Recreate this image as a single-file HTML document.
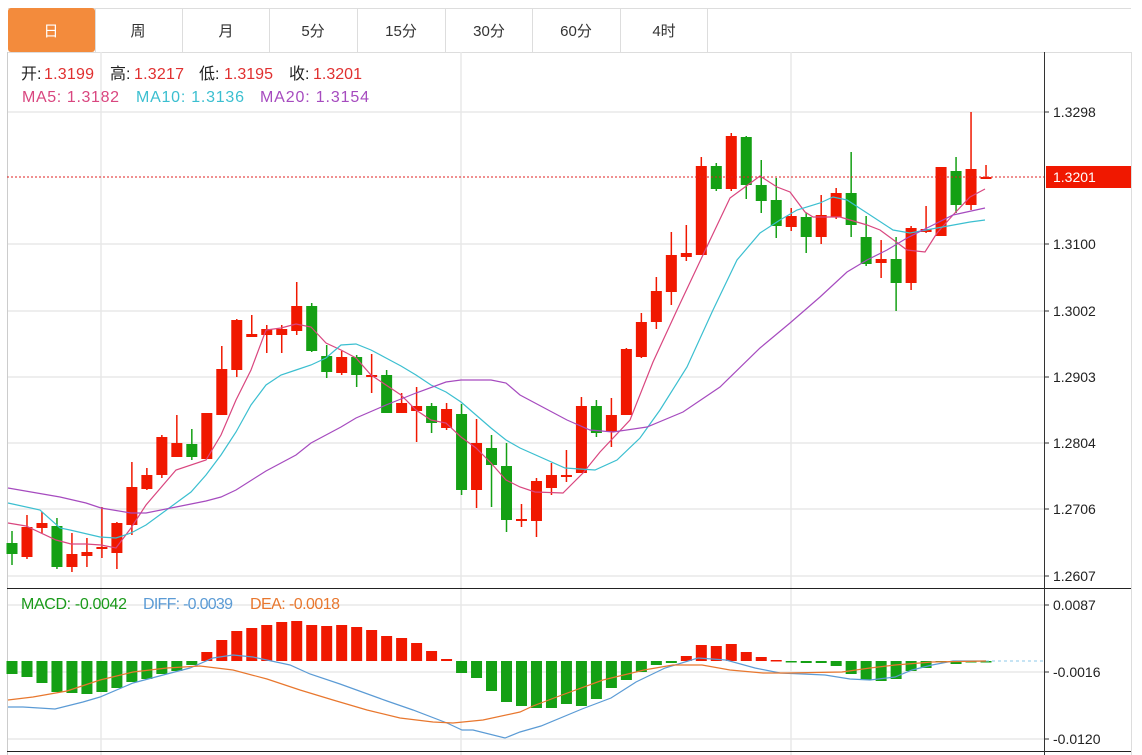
<!DOCTYPE html>
<html><head><meta charset="utf-8"><style>
body{margin:0;background:#fff;width:1142px;height:755px;overflow:hidden;font-family:"Liberation Sans","Noto Sans CJK SC",sans-serif}
svg{position:absolute;left:0;top:0}
text{font-family:"Liberation Sans","Noto Sans CJK SC",sans-serif}
</style></head><body>
<svg id="s" width="1142" height="755" xmlns="http://www.w3.org/2000/svg">
<rect x="0" y="0" width="1142" height="755" fill="#fff"/>
<line x1="8" y1="8.5" x2="1131" y2="8.5" stroke="#ddd"/>
<line x1="8" y1="52.5" x2="1131" y2="52.5" stroke="#ddd"/>
<rect x="8" y="8" width="87" height="44" rx="3" fill="#f38b3c"/>
<g stroke="#ddd"><line x1="182.5" y1="8" x2="182.5" y2="52"/><line x1="269.5" y1="8" x2="269.5" y2="52"/><line x1="357.5" y1="8" x2="357.5" y2="52"/><line x1="445.5" y1="8" x2="445.5" y2="52"/><line x1="532.5" y1="8" x2="532.5" y2="52"/><line x1="620.5" y1="8" x2="620.5" y2="52"/><line x1="707.5" y1="8" x2="707.5" y2="52"/><line x1="95.5" y1="8" x2="95.5" y2="52"/></g>
<g font-size="15" text-anchor="middle" fill="#333">
<text x="51" y="36" fill="#fff">日</text><text x="138" y="36">周</text><text x="226" y="36">月</text><text x="313" y="36">5分</text><text x="401" y="36">15分</text><text x="489" y="36">30分</text><text x="576" y="36">60分</text><text x="664" y="36">4时</text>
</g>
<line x1="7.5" y1="52" x2="7.5" y2="755" stroke="#ccc"/>
<line x1="1131.5" y1="52" x2="1131.5" y2="755" stroke="#ddd"/>
<g stroke="#e8e8e8" stroke-width="1.5">
<line x1="8" y1="112" x2="1044" y2="112"/><line x1="8" y1="244" x2="1044" y2="244"/><line x1="8" y1="311" x2="1044" y2="311"/><line x1="8" y1="377" x2="1044" y2="377"/><line x1="8" y1="443" x2="1044" y2="443"/><line x1="8" y1="509" x2="1044" y2="509"/><line x1="8" y1="576" x2="1044" y2="576"/>
<line x1="8" y1="605" x2="1044" y2="605"/><line x1="8" y1="672" x2="1044" y2="672"/><line x1="8" y1="739" x2="1044" y2="739"/>
<line x1="101" y1="52" x2="101" y2="755"/><line x1="461" y1="52" x2="461" y2="755"/><line x1="791" y1="52" x2="791" y2="755"/>
</g>
<line x1="7" y1="588.5" x2="1131" y2="588.5" stroke="#222"/>
<line x1="7" y1="751.5" x2="1131" y2="751.5" stroke="#222"/>
<line x1="1044.5" y1="52" x2="1044.5" y2="755" stroke="#333"/>
<g id="cand"></g>
<g id="macd"></g>
<line x1="7" y1="177" x2="1044" y2="177" stroke="#e02020" stroke-dasharray="2,2"/>
<line x1="986" y1="661" x2="1044" y2="661" stroke="#8cc8e8" stroke-dasharray="3,3"/>
<g font-size="14" fill="#222" stroke="none">
<text x="1053" y="117">1.3298</text><text x="1053" y="249">1.3100</text><text x="1053" y="316">1.3002</text><text x="1053" y="382">1.2903</text><text x="1053" y="448">1.2804</text><text x="1053" y="514">1.2706</text><text x="1053" y="581">1.2607</text>
<text x="1053" y="610">0.0087</text><text x="1053" y="677">-0.0016</text><text x="1053" y="744">-0.0120</text>
</g>
<g stroke="#333"><line x1="1044" y1="112" x2="1049" y2="112"/><line x1="1044" y1="244" x2="1049" y2="244"/><line x1="1044" y1="311" x2="1049" y2="311"/><line x1="1044" y1="377" x2="1049" y2="377"/><line x1="1044" y1="443" x2="1049" y2="443"/><line x1="1044" y1="509" x2="1049" y2="509"/><line x1="1044" y1="576" x2="1049" y2="576"/><line x1="1044" y1="605" x2="1049" y2="605"/><line x1="1044" y1="672" x2="1049" y2="672"/><line x1="1044" y1="739" x2="1049" y2="739"/></g>
<rect x="1046" y="166" width="85" height="22" fill="#f01800"/>
<text x="1053" y="182" font-size="14" fill="#fff">1.3201</text>
<g font-size="16">
<text x="21" y="79" fill="#222">开:</text><text x="44" y="79" fill="#e03030" textLength="50">1.3199</text>
<text x="110" y="79" fill="#222">高:</text><text x="134" y="79" fill="#e03030" textLength="50">1.3217</text>
<text x="199" y="79" fill="#222">低:</text><text x="224" y="79" fill="#e03030" textLength="49">1.3195</text>
<text x="289" y="79" fill="#222">收:</text><text x="313" y="79" fill="#e03030" textLength="49">1.3201</text>
<text x="22" y="102" fill="#d9467f" textLength="97">MA5: 1.3182</text>
<text x="136" y="102" fill="#3bbfd0" textLength="108">MA10: 1.3136</text>
<text x="260" y="102" fill="#a64bbf" textLength="109">MA20: 1.3154</text>
<text x="21" y="609" fill="#1a9a1a" textLength="106">MACD: -0.0042</text>
<text x="143" y="609" fill="#5b9bd5" textLength="90">DIFF: -0.0039</text>
<text x="250" y="609" fill="#e8772e" textLength="90">DEA: -0.0018</text>
</g>
</svg>
<script>
var NS="http://www.w3.org/2000/svg";
function el(p,n,a){var e=document.createElementNS(NS,n);for(var k in a)e.setAttribute(k,a[k]);p.appendChild(e);return e;}
var R="#f01800",G="#14a014";
var C=[[543,554,531,565,G],[527,557,515,559,R],[523,528,512,533,R],[526,567,518,569,G],[554,567,533,572,R],[552,556,538,567,R],[547,549,507,558,R],[523,553,522,569,R],[487,525,462,535,R],[475,489,468,490,R],[437,475,435,478,R],[443,457,415,457,R],[444,457,429,460,G],[413,459,413,459,R],[369,415,346,415,R],[320,370,319,377,R],[334,337,315,337,R],[329,335,325,353,R],[329,335,325,353,R],[306,331,282,335,R],[306,351,303,352,G],[356,372,345,378,G],[357,373,351,375,R],[357,375,355,387,G],[375,377,354,393,R],[375,413,370,413,G],[403,413,393,413,R],[406,411,387,442,R],[406,423,403,433,G],[409,428,403,430,R],[414,490,404,495,G],[443,490,419,508,R],[448,465,435,507,G],[466,520,443,532,G],[519,521,504,527,R],[481,521,478,537,R],[475,488,463,495,R],[475,477,450,482,R],[406,473,397,473,R],[406,433,400,437,G],[415,432,398,447,R],[349,415,348,415,R],[322,357,313,358,R],[291,322,277,329,R],[255,292,232,305,R],[253,257,225,261,R],[166,255,157,255,R],[166,189,163,191,G],[136,189,133,191,R],[137,185,136,199,G],[185,201,160,213,G],[200,226,178,238,G],[216,227,208,231,R],[217,237,213,253,G],[215,237,195,244,R],[193,217,188,219,R],[193,225,152,237,G],[237,264,216,266,G],[259,263,240,278,R],[259,283,237,311,G],[228,283,226,290,R],[229,232,206,233,R],[167,236,167,236,R],[171,205,157,213,G],[169,205,112,210,R],[177,179,165,179,R]];
var cg=document.getElementById("cand");
function X(i){return 12+14.985*i;}
C.forEach(function(c,i){var x=X(i);
el(cg,"line",{x1:x,y1:c[2],x2:x,y2:c[3],stroke:c[4],"stroke-width":1.5});
el(cg,"rect",{x:x-5.5,y:c[0],width:11,height:Math.max(2,c[1]-c[0]),fill:c[4]});});
function pl(pts,col){el(cg,"polyline",{points:pts,fill:"none",stroke:col,"stroke-width":1.2});}
pl("8,523 26,526 56,540 71,544 86,544 101,545 116,548 131,528 146,505 176,470 206,460 221,435 236,400 251,370 266,330 281,328 296,324 311,327 326,343 341,350 356,358 371,375 386,385 401,395 416,410 431,420 446,423 461,437 476,448 491,463 506,480 520,487 535,492 563,493 583,473 600,452 630,420 653,362 677,310 702,257 730,198 760,176 777,187 790,192 805,212 813,217 840,217 867,225 880,230 907,250 925,252 937,233 953,215 970,197 985,189","#d9467f");
pl("8,503 40,510 60,528 70,530 100,537 116,538 131,533 146,525 176,503 191,492 206,475 221,455 236,432 251,405 266,385 281,375 296,370 311,365 326,358 341,345 356,344 371,350 386,358 401,366 416,375 431,385 446,392 461,402 476,415 491,428 506,440 520,448 565,468 595,470 617,460 640,438 660,410 687,367 713,310 737,260 760,233 780,220 797,210 820,203 833,197 847,200 867,213 893,230 910,233 937,228 970,222 985,220","#3bbfd0");
pl("8,488 60,497 86,503 101,508 131,513 146,513 176,507 206,501 221,497 236,490 266,471 296,455 311,443 341,427 356,418 386,405 416,393 446,382 461,380 491,380 506,383 520,395 567,420 590,430 613,432 647,427 683,412 720,387 760,348 790,323 820,297 847,272 867,260 887,250 907,238 937,223 953,215 985,208","#a64bbf");
var M=[674,677,683,692,693,694,692,688,682,679,674,671,665,652,640,631,628,625,622,621,625,626,625,627,630,636,638,643,651,659,673,678,691,702,706,708,708,704,706,699,688,680,672,665,663,656,645,646,644,652,657,660,661,663,663,666,674,680,681,679,671,668,662,664,661,661];
var mg=document.getElementById("macd");var Z=661;
M.forEach(function(v,i){var x=X(i);var col=v<Z?R:G;var y=Math.min(v,Z),h=Math.abs(v-Z);if(h<1.5)h=1.5;
el(mg,"rect",{x:x-5.5,y:y,width:11,height:h,fill:col});});
el(mg,"polyline",{points:"8,707 23,707 55,709 83,702 100,697 133,683 167,674 190,668 213,658 233,655 253,657 290,665 310,674 340,684 387,701 413,710 447,723 462,730 473,730 505,738 520,732 541,726 582,709 611,698 636,682 665,668 698,658 726,660 755,668 780,673 825,675 850,679 870,680 895,677 912,670 932,665 953,661 986,661",fill:"none",stroke:"#5b9bd5","stroke-width":1.2});
el(mg,"polyline",{points:"8,700 33,697 67,691 100,680 133,672 167,668 200,666 233,670 267,679 300,690 333,700 367,710 400,718 433,722 453,723 483,720 520,712 533,706 562,695 603,680 644,670 673,665 702,665 730,670 763,673 788,673 842,672 870,668 895,665 932,662 986,661",fill:"none",stroke:"#e8772e","stroke-width":1.2});
</script>
</body></html>
